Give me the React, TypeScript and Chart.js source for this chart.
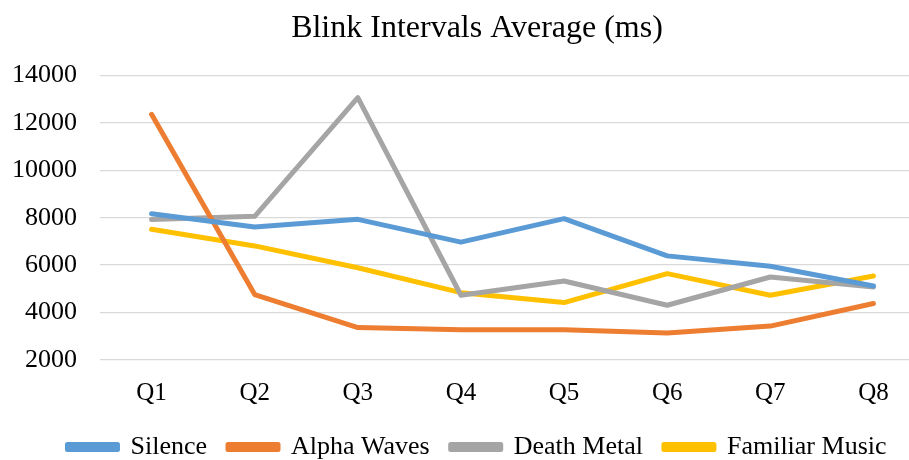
import React, { useEffect, useRef } from "react";
import { Chart, registerables } from "chart.js";

Chart.register(...registerables);

const categories = ["Q1", "Q2", "Q3", "Q4", "Q5", "Q6", "Q7", "Q8"];
const silence = [8170, 7610, 7930, 6970, 7960, 6390, 5950, 5120];
const alphaWaves = [12360, 4760, 3370, 3280, 3280, 3140, 3430, 4380];
const deathMetal = [7920, 8060, 13060, 4730, 5330, 4310, 5500, 5080];
const familiarMusic = [7510, 6810, 5890, 4840, 4420, 5640, 4730, 5540];
const yTicks = [2000, 4000, 6000, 8000, 10000, 12000, 14000];

const FONT = "'Liberation Serif', 'Times New Roman', serif";

const shiftBoxes = {
  id: "shiftBoxes",
  afterLayout(chart: any) {
    const dx = 14.5;
    for (const b of [chart.titleBlock, chart.legend]) {
      if (b) {
        b.left += dx;
        b.right += dx;
      }
    }
  },
};

export default function App() {
  const ref = useRef<HTMLCanvasElement | null>(null);

  useEffect(() => {
    if (!ref.current) return;
    const mk = (label: string, data: number[], color: string) => ({
      label,
      data,
      borderColor: color,
      backgroundColor: color,
      borderWidth: 5,
      borderCapStyle: "round" as const,
      borderJoinStyle: "round" as const,
      pointRadius: 0,
      pointHoverRadius: 0,
      tension: 0,
    });
    const chart = new Chart(ref.current, {
      type: "line",
      data: {
        labels: categories,
        datasets: [
          mk("Silence", silence, "#5B9BD5"),
          mk("Alpha Waves", alphaWaves, "#ED7D31"),
          mk("Death Metal", deathMetal, "#A5A5A5"),
          mk("Familiar Music", familiarMusic, "#FFC000"),
        ],
      },
      plugins: [shiftBoxes],
      options: {
        responsive: false,
        animation: false,
        layout: { padding: { left: 0, right: 29, top: 0, bottom: 0 } },
        plugins: {
          title: {
            display: true,
            text: "Blink Intervals Average (ms)",
            color: "#000",
            font: { family: FONT, size: 32, weight: "normal" },
            padding: { top: 9, bottom: 28 },
          },
          legend: {
            display: true,
            position: "bottom",
            labels: {
              color: "#000",
              font: { family: FONT, size: 26 },
              boxWidth: 50,
              boxHeight: 5,
              padding: 8,
              generateLabels: (ch: any) => {
                const items = Chart.defaults.plugins.legend.labels.generateLabels(ch);
                return items.map((l: any, i: number) =>
                  i < items.length - 1 ? { ...l, text: l.text + "\u2002" } : l
                );
              },
            },
          },
          tooltip: { enabled: false },
        },
        scales: {
          x: {
            type: "category",
            offset: true,
            grid: { display: false, drawTicks: false },
            border: { display: false },
            ticks: {
              color: "#000",
              font: { family: FONT, size: 25 },
              padding: 18,
            },
          },
          y: {
            min: 2000,
            max: 14000,
            afterFit: (scale: any) => {
              scale.width = 100;
            },
            afterBuildTicks: (scale: any) => {
              scale.ticks = yTicks.map((v) => ({ value: v }));
            },
            grid: { color: "#D9D9D9", lineWidth: 1.3, drawTicks: false },
            border: { display: false },
            ticks: {
              color: "#000",
              font: { family: FONT, size: 26 },
              padding: 23,
              callback: (v: any) => String(v),
            },
          },
        },
      },
    });
    return () => chart.destroy();
  }, []);

  return (
    <div
      style={{
        position: "fixed",
        left: 0,
        top: 0,
        width: 909,
        height: 460,
        overflow: "hidden",
        background: "#fff",
      }}
    >
      <canvas ref={ref} width={954} height={470} style={{ display: "block" }} />
    </div>
  );
}
